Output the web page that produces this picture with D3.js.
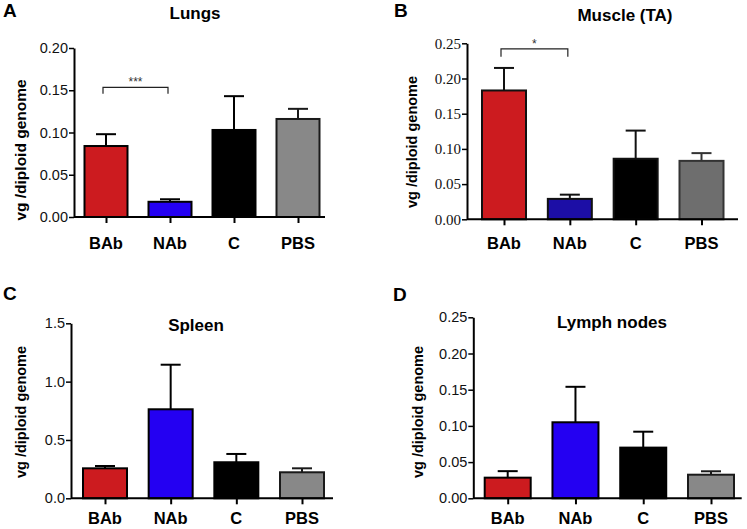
<!DOCTYPE html>
<html>
<head>
<meta charset="utf-8">
<script src="https://cdn.jsdelivr.net/npm/d3@7"></script>
<style>
  html, body { margin: 0; padding: 0; background: #fff; }
  svg { display: block; }
</style>
</head>
<body>
<svg id="chart" width="747" height="529"></svg>
<script>
// ---------- data ----------
const groups = ["BAb", "NAb", "C", "PBS"];

const lungsMean = [0.084, 0.018, 0.103, 0.116];
const lungsSem  = [0.014, 0.003, 0.040, 0.012];
const lungsTicks = [0, 0.05, 0.10, 0.15, 0.20];

const muscleMean = [0.183, 0.029, 0.086, 0.083];
const muscleSem  = [0.032, 0.006, 0.040, 0.011];
const muscleTicks = [0, 0.05, 0.10, 0.15, 0.20, 0.25];

const spleenMean = [0.257, 0.763, 0.309, 0.223];
const spleenSem  = [0.020, 0.382, 0.071, 0.034];
const spleenTicks = [0, 0.5, 1.0, 1.5];

const lymphMean = [0.0285, 0.105, 0.070, 0.0326];
const lymphSem  = [0.009, 0.049, 0.022, 0.0047];
const lymphTicks = [0, 0.05, 0.10, 0.15, 0.20, 0.25];

const yLabel = "vg /diploid genome";

// ---------- layout / style ----------
const svg = d3.select("#chart");
const SANS = "'Liberation Sans', Arial, sans-serif";
const SERIF = "'Liberation Serif', 'Times New Roman', serif";

const panels = [
  { letter: "A", lx: 3, ly: 17, title: "Lungs", tx: 195, ty: 19, titleSize: 17,
    mean: lungsMean, sem: lungsSem, ticks: lungsTicks, fmt: ".2f",
    yMax: 0.20, x0: 74, xEnd: 325, y0: 217, yTop: 48, c0: 106, c1: 298, bw: 43,
    tickFont: SANS, tickSize: 14.5, labX: 26, labY: 150, labSize: 15.5, xLabBase: 249,
    colors: ["#cc1b1f", "#2400f2", "#000000", "#888888"], strokes: ["#000","#000","#000","#1a1a1a"],
    sig: { a: 0, b: 1, y: 0.1535, drop: 0.0075, text: "***" } },
  { letter: "B", lx: 394, ly: 17, title: "Muscle (TA)", tx: 625, ty: 21, titleSize: 17,
    mean: muscleMean, sem: muscleSem, ticks: muscleTicks, fmt: ".2f",
    yMax: 0.25, x0: 467, xEnd: 738, y0: 219.3, yTop: 43.3, c0: 504, c1: 701.5, bw: 44,
    tickFont: SERIF, tickSize: 15, labX: 417, labY: 142, labSize: 14.5, xLabBase: 249,
    colors: ["#cc1b1f", "#1c0ea6", "#000000", "#6e6e6e"], strokes: ["#111","#111","#111","#333"],
    sig: { a: 0, b: 1, y: 0.242, drop: 0.011, text: "*" } },
  { letter: "C", lx: 3, ly: 300, title: "Spleen", tx: 196, ty: 331, titleSize: 17,
    mean: spleenMean, sem: spleenSem, ticks: spleenTicks, fmt: ".1f",
    yMax: 1.5, x0: 71, xEnd: 333, y0: 498.3, yTop: 323.3, c0: 105, c1: 302, bw: 44,
    tickFont: SANS, tickSize: 14.5, labX: 26, labY: 412, labSize: 14.5, xLabBase: 524,
    colors: ["#cc1b1f", "#2400f2", "#000000", "#888888"], strokes: ["#000","#000","#000","#1a1a1a"],
    sig: null },
  { letter: "D", lx: 393, ly: 301, title: "Lymph nodes", tx: 612, ty: 328, titleSize: 17,
    mean: lymphMean, sem: lymphSem, ticks: lymphTicks, fmt: ".2f",
    yMax: 0.25, x0: 473.3, xEnd: 741.7, y0: 498.3, yTop: 317.3, c0: 507.7, c1: 711, bw: 46,
    tickFont: SANS, tickSize: 14.5, labX: 423, labY: 412, labSize: 14.5, xLabBase: 524,
    colors: ["#cc1b1f", "#2400f2", "#000000", "#888888"], strokes: ["#000","#000","#000","#1a1a1a"],
    sig: null }
];

panels.forEach(p => {
  const g = svg.append("g");
  const y = d3.scaleLinear().domain([0, p.yMax]).range([p.y0, p.yTop]);
  const x = d3.scalePoint().domain(groups).range([p.c0, p.c1]);

  // panel letter
  g.append("text").attr("x", p.lx).attr("y", p.ly)
    .attr("font-family", SANS).attr("font-weight", "bold").attr("font-size", 19)
    .text(p.letter);

  // title
  g.append("text").attr("x", p.tx).attr("y", p.ty).attr("text-anchor", "middle")
    .attr("font-family", SANS).attr("font-weight", "bold").attr("font-size", p.titleSize)
    .text(p.title);

  // y label
  g.append("text")
    .attr("transform", `translate(${p.labX},${p.labY}) rotate(-90)`)
    .attr("text-anchor", "middle")
    .attr("font-family", SANS).attr("font-weight", "bold").attr("font-size", p.labSize)
    .text(yLabel);

  // bars
  g.selectAll("rect.bar").data(groups).enter().append("rect")
    .attr("x", d => x(d) - p.bw / 2)
    .attr("y", (d, i) => y(p.mean[i]))
    .attr("width", p.bw)
    .attr("height", (d, i) => y(0) - y(p.mean[i]))
    .attr("fill", (d, i) => p.colors[i])
    .attr("stroke", (d, i) => p.strokes[i])
    .attr("stroke-width", 2);

  // error bars (upper only)
  groups.forEach((d, i) => {
    const cx = x(d);
    const top = y(p.mean[i] + p.sem[i]);
    g.append("line").attr("x1", cx).attr("x2", cx)
      .attr("y1", y(p.mean[i])).attr("y2", top)
      .attr("stroke", p.strokes[i]).attr("stroke-width", 2);
    g.append("line").attr("x1", cx - 10).attr("x2", cx + 10)
      .attr("y1", top).attr("y2", top)
      .attr("stroke", p.strokes[i]).attr("stroke-width", 2);
  });

  // y axis
  const yAxis = d3.axisLeft(y).tickValues(p.ticks).tickFormat(d3.format(p.fmt))
    .tickSizeOuter(0).tickSizeInner(5).tickPadding(1);
  const ya = g.append("g").attr("transform", `translate(${p.x0},0)`).call(yAxis);
  ya.select(".domain").attr("stroke", "#000").attr("stroke-width", 2);
  ya.selectAll(".tick line").attr("stroke", "#000").attr("stroke-width", 1.5);
  ya.selectAll(".tick text").attr("font-family", p.tickFont).attr("font-size", p.tickSize)
    .attr("fill", "#111");

  // x axis line
  g.append("line").attr("x1", p.x0).attr("x2", p.xEnd)
    .attr("y1", p.y0).attr("y2", p.y0)
    .attr("stroke", "#000").attr("stroke-width", 2);
  const xAxis = d3.axisBottom(x).tickSizeInner(6).tickSizeOuter(0).tickFormat("");
  const xa = g.append("g").attr("transform", `translate(0,${p.y0})`).call(xAxis);
  xa.select(".domain").remove();
  xa.selectAll(".tick line").attr("stroke", "#000").attr("stroke-width", 2);

  // x labels
  g.selectAll("text.xl").data(groups).enter().append("text")
    .attr("x", d => x(d)).attr("y", p.xLabBase).attr("text-anchor", "middle")
    .attr("font-family", SANS).attr("font-weight", "bold").attr("font-size", 16.5)
    .text(d => d);

  // significance bracket
  if (p.sig) {
    const xa1 = x(groups[p.sig.a]) - 3, xb1 = x(groups[p.sig.b]) - 2;
    const yb = y(p.sig.y), yd = y(p.sig.y - p.sig.drop);
    g.append("path")
      .attr("d", `M${xa1},${yd}V${yb}H${xb1}V${yd}`)
      .attr("fill", "none").attr("stroke", "#222").attr("stroke-width", 1.2);
    g.append("text").attr("x", (xa1 + xb1) / 2).attr("y", yb - 1)
      .attr("text-anchor", "middle").attr("font-family", SANS).attr("font-size", 12)
      .attr("fill", "#333").text(p.sig.text);
  }
});
</script>
</body>
</html>
